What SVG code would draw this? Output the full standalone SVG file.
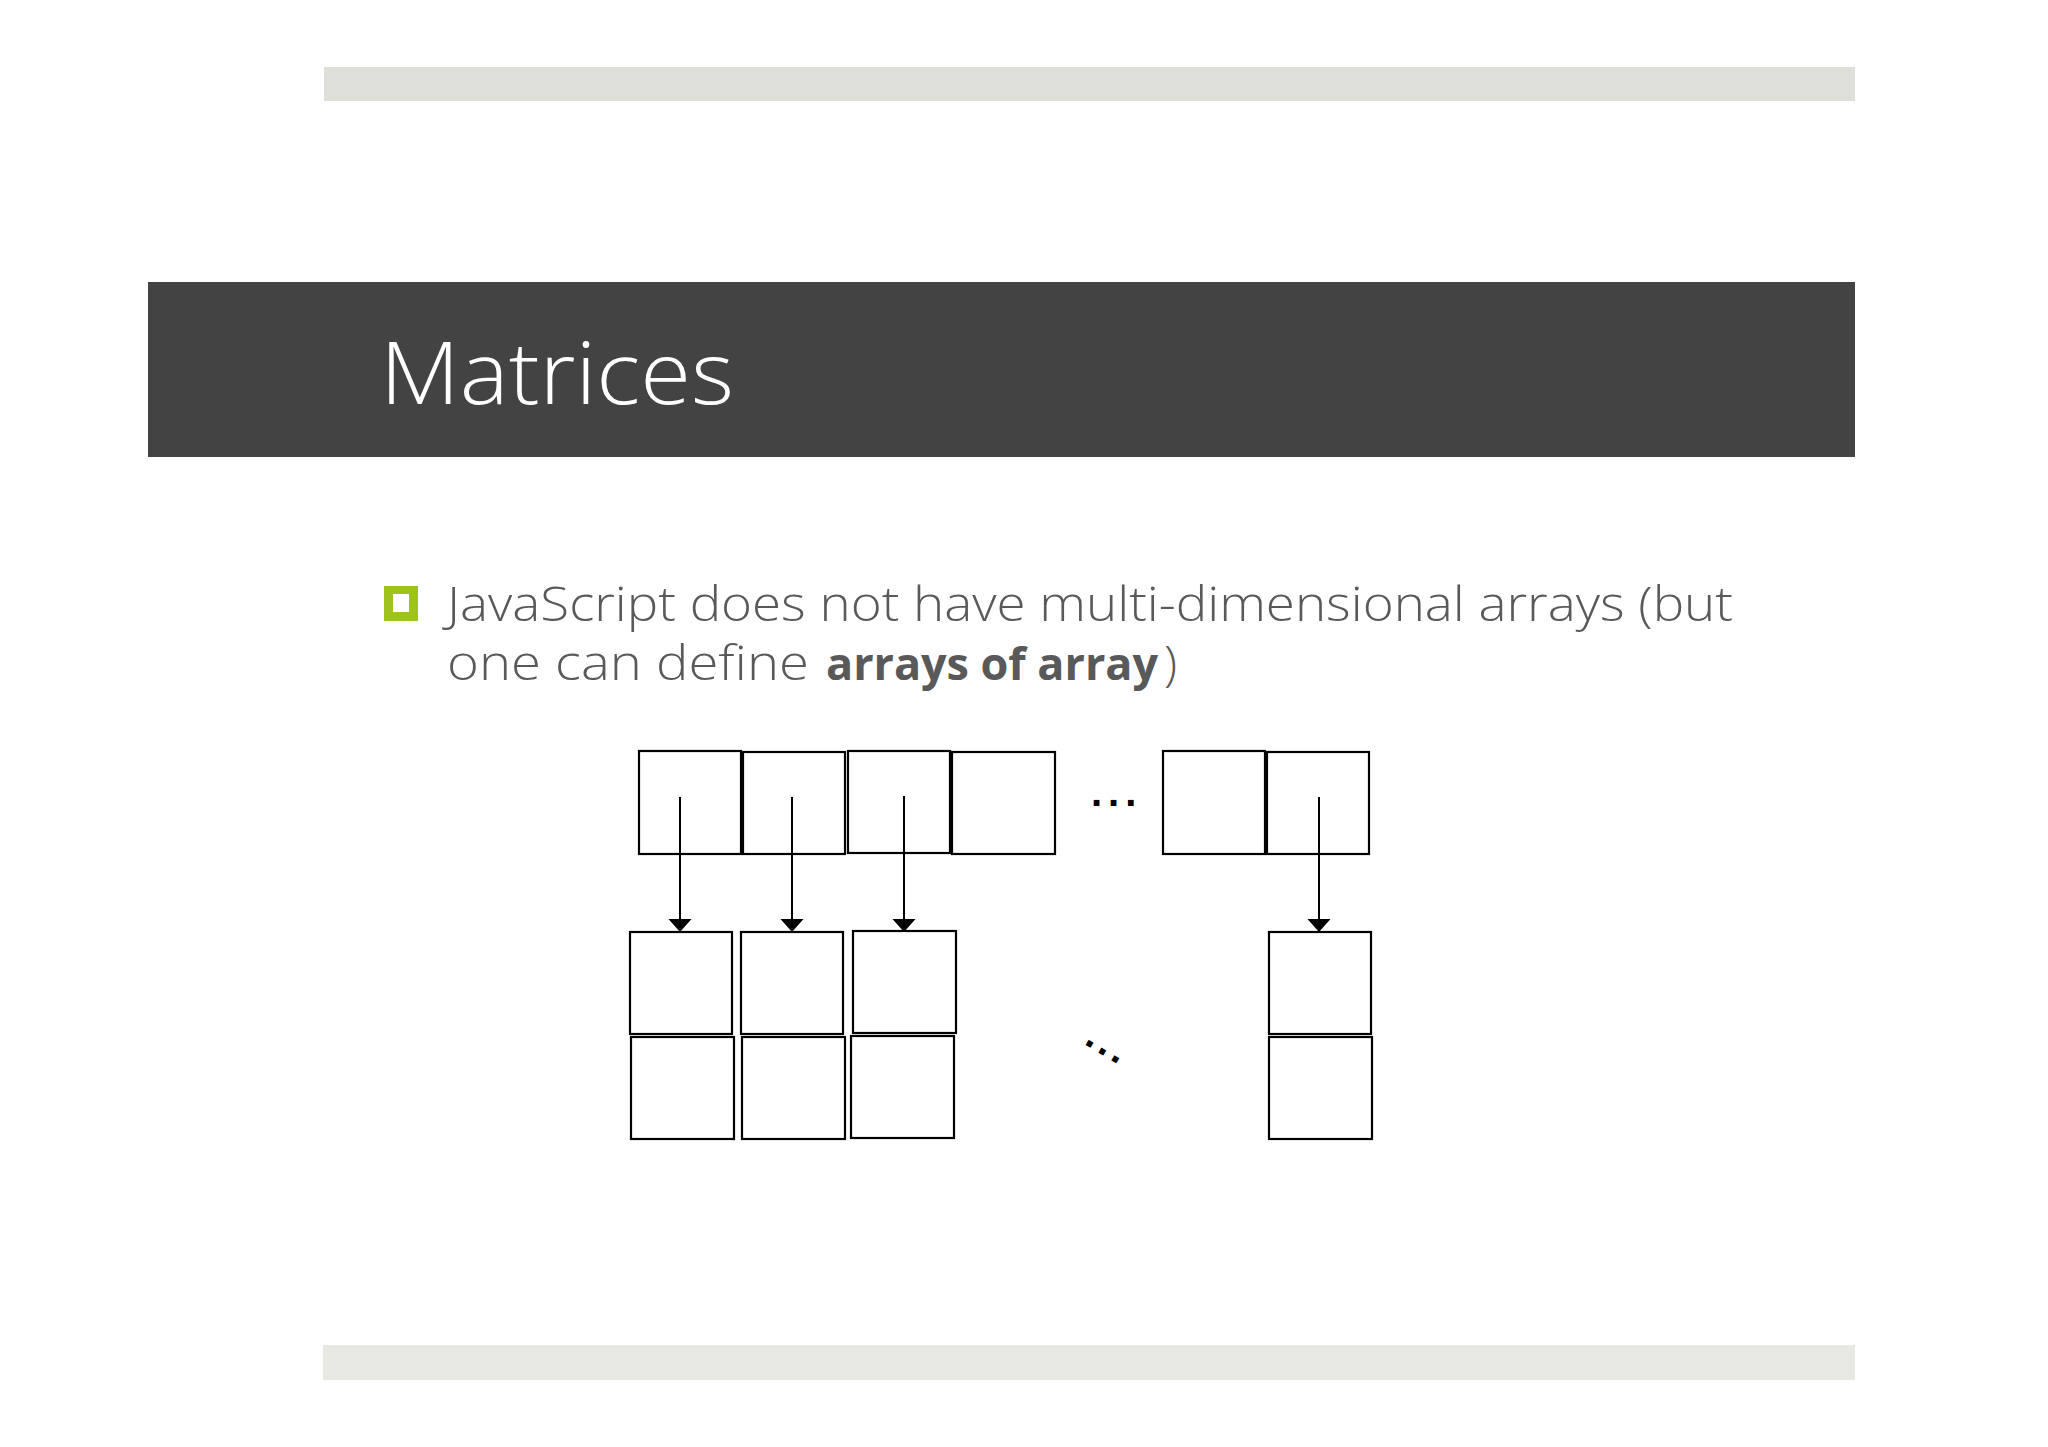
<svg xmlns="http://www.w3.org/2000/svg" width="2048" height="1447" viewBox="0 0 2048 1447">
<style>
.box{fill:#fff;stroke:#000;stroke-width:2.2}
.body{font-family:"Open Sans","Liberation Sans",Arial,sans-serif;font-size:48px;font-weight:300;fill:#595959}
.bold{font-weight:bold;font-size:45px}
.dots{font-family:"Liberation Sans",Arial,sans-serif;font-size:40px;fill:#000;font-weight:bold}
.conn{stroke:#000;stroke-width:2;fill:none}
</style>
<defs>
<marker id="ah" markerUnits="userSpaceOnUse" markerWidth="14" markerHeight="24" refX="0" refY="11.5" orient="auto" viewBox="0 0 14 23">
<path d="M0,0 L13,11.5 L0,23 z" fill="#000"/>
</marker>
</defs>
<rect width="2048" height="1447" fill="#fff"/>
<g id="top-bar"><rect x="324" y="67" width="1531" height="34" fill="#dedfd8"/></g>
<g id="title-bar">
<rect x="148" y="282" width="1707" height="175" fill="#434343"/>
<text x="380" y="404" font-family="'Open Sans','Liberation Sans',Arial,sans-serif" font-weight="300" font-size="86" fill="#fff" textLength="354" lengthAdjust="spacingAndGlyphs">Matrices</text>
</g>
<g id="bullet">
<rect x="384" y="586" width="34" height="35" fill="#9ec41b"/>
<rect x="393" y="594" width="16" height="18" fill="#fff"/>
</g>
<g id="body-text">
<text class="body" x="447" y="621" textLength="1286" lengthAdjust="spacingAndGlyphs">JavaScript does not have multi-dimensional arrays (but</text>
<text class="body" x="447" y="680" textLength="362" lengthAdjust="spacingAndGlyphs">one can define</text>
<text class="body bold" x="826" y="680" textLength="332" lengthAdjust="spacing">arrays of array</text>
<text class="body" x="1164" y="680">)</text>
</g>
<g id="outer-array">
<rect class="box" x="639" y="751" width="102" height="103"/>
<rect class="box" x="743" y="752" width="102" height="102"/>
<rect class="box" x="848" y="751" width="102" height="102"/>
<rect class="box" x="952" y="752" width="103" height="102"/>
<rect class="box" x="1163" y="751" width="102" height="103"/>
<rect class="box" x="1267" y="752" width="102" height="102"/>
</g>
<g id="row1">
<rect class="box" x="630" y="932" width="102" height="102"/>
<rect class="box" x="741" y="932" width="102" height="102"/>
<rect class="box" x="853" y="931" width="103" height="102"/>
<rect class="box" x="1269" y="932" width="102" height="102"/>
</g>
<g id="row2">
<rect class="box" x="631" y="1037" width="103" height="102"/>
<rect class="box" x="742" y="1037" width="103" height="102"/>
<rect class="box" x="851" y="1036" width="103" height="102"/>
<rect class="box" x="1269" y="1037" width="103" height="102"/>
</g>
<g id="ellipsis-h"><text class="dots" x="1091" y="806" letter-spacing="6">...</text></g>
<g id="ellipsis-d"><text class="dots" transform="translate(1090,1043) rotate(31)" x="-5.6" y="4" letter-spacing="4">...</text></g>
<g id="connectors">
<line class="conn" x1="680" y1="797" x2="680" y2="919" marker-end="url(#ah)"/>
<line class="conn" x1="792" y1="797" x2="792" y2="919" marker-end="url(#ah)"/>
<line class="conn" x1="904" y1="796" x2="904" y2="919" marker-end="url(#ah)"/>
<line class="conn" x1="1319" y1="797" x2="1319" y2="919" marker-end="url(#ah)"/>
</g>
<g id="bottom-bar"><rect x="323" y="1345" width="1532" height="35" fill="#e8e8e3"/></g>
</svg>
